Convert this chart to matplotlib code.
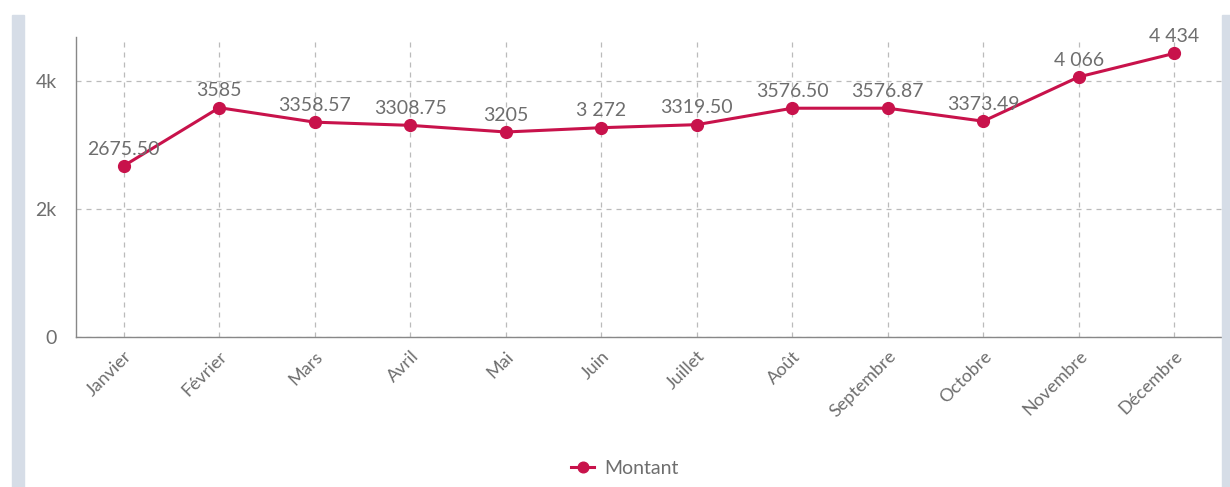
import matplotlib.pyplot as plt
from matplotlib.patches import Rectangle

plt.rcParams['font.family'] = ['Lato', 'DejaVu Sans']

mois = ['Janvier', 'Février', 'Mars', 'Avril', 'Mai', 'Juin', 'Juillet',
        'Août', 'Septembre', 'Octobre', 'Novembre', 'Décembre']
montant = [2675.50, 3585, 3358.57, 3308.75, 3205, 3272, 3319.50,
           3576.50, 3576.87, 3373.49, 4066, 4434]
etiquettes = ['2675.50', '3585', '3358.57', '3308.75', '3205', '3 272', '3319.50',
              '3576.50', '3576.87', '3373.49', '4 066', '4 434']
y_ticks = [0, 2000, 4000]
y_labels = ['0', '2k', '4k']

couleur = '#c8124b'
gris = '#6e6e6e'

fig = plt.figure(figsize=(12.3, 4.87), dpi=100)
ax = fig.add_axes([76 / 1230, 1 - 337 / 487, (1222 - 76) / 1230, 300 / 487])

# barres grises sur les bords
fig.patches.append(Rectangle((12 / 1230, 0), 12 / 1230, 1 - 15 / 487,
                             transform=fig.transFigure, color='#d6dde7', zorder=0))
fig.patches.append(Rectangle((1222 / 1230, 0), 8 / 1230, 1 - 15 / 487,
                             transform=fig.transFigure, color='#d6dde7', zorder=0))

x = list(range(len(mois)))
ax.plot(x, montant, color=couleur, lw=2.2, marker='o', markersize=8.5,
        label='Montant', zorder=3, clip_on=False)

for xi, yi, t in zip(x, montant, etiquettes):
    ax.annotate(t, (xi, yi), xytext=(0, 6), textcoords='offset points',
                ha='center', va='bottom', fontsize=14, color=gris, zorder=4)

ax.set_xlim(-0.5, len(mois) - 0.5)
ax.set_ylim(0, 4690)
ax.set_yticks(y_ticks)
ax.set_yticklabels(y_labels, fontsize=14, color=gris)
ax.set_xticks(x)
ax.set_xticklabels(mois, rotation=45, ha='right', rotation_mode='anchor',
                   fontsize=13, color=gris)
ax.tick_params(axis='both', length=0)
ax.tick_params(axis='y', pad=14)
ax.tick_params(axis='x', pad=8)

ax.grid(True, linestyle=(0, (4, 4)), color='#bbbbbb', lw=0.9)
ax.set_axisbelow(True)
for s in ['top', 'right']:
    ax.spines[s].set_visible(False)
for s in ['left', 'bottom']:
    ax.spines[s].set_color('#888888')
    ax.spines[s].set_linewidth(1)

fig.legend(loc='center', bbox_to_anchor=(0.508, 1 - 468 / 487), frameon=False,
           fontsize=14, labelcolor=gris, handlelength=1.2, handletextpad=0.5,
           markerscale=0.9)

fig.savefig('out.png', dpi=100)
